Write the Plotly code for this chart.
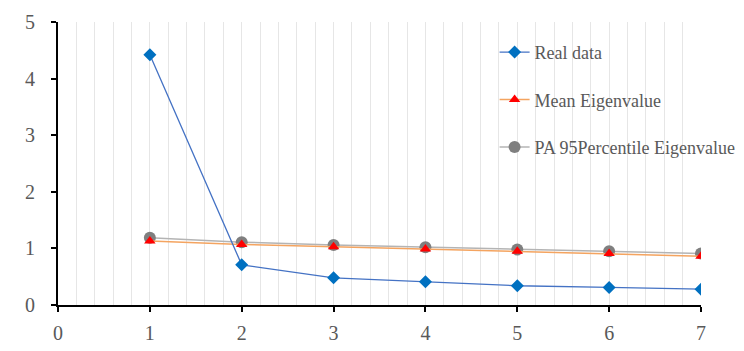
import plotly.graph_objects as go

factors = [1, 2, 3, 4, 5, 6, 7]
real_data = [4.42, 0.71, 0.48, 0.41, 0.34, 0.31, 0.28]
mean_eigen = [1.13, 1.07, 1.03, 0.99, 0.95, 0.91, 0.86]
pa95_eigen = [1.19, 1.11, 1.06, 1.02, 0.98, 0.95, 0.91]
x_labels = [0, 1, 2, 3, 4, 5, 6, 7]
y_ticks = [0, 1, 2, 3, 4, 5]

# vertical gridlines every 0.2 along x; labels only at integers
grid_vals = [i / 5 for i in range(0, 36)]
grid_text = [str(int(round(v))) if abs(v - round(v)) < 1e-9 else "" for v in grid_vals]

font_family = "Liberation Serif, Times New Roman, serif"

fig = go.Figure()
fig.add_trace(go.Scatter(
    x=factors, y=pa95_eigen, name="PA 95Percentile Eigenvalue", mode="lines+markers",
    line=dict(color="#B4B4B4", width=1.5),
    marker=dict(symbol="circle", size=12, color="#7F7F7F"),
    legendgroup="c", legendrank=3))
fig.add_trace(go.Scatter(
    x=factors, y=mean_eigen, name="Mean Eigenvalue", mode="lines+markers",
    line=dict(color="#F4A460", width=1.5),
    marker=dict(symbol="triangle-up", size=10, color="#FF0000"),
    legendgroup="b", legendrank=2))
fig.add_trace(go.Scatter(
    x=factors, y=real_data, name="Real data", mode="lines+markers",
    line=dict(color="#4472C4", width=1.3),
    marker=dict(symbol="diamond", size=10, color="#0070C0"),
    legendgroup="a", legendrank=1))

fig.update_layout(
    width=736, height=343,
    margin=dict(l=50, r=43, t=14, b=46, autoexpand=False),
    plot_bgcolor="white", paper_bgcolor="white",
    font=dict(family=font_family, color="#595959"),
    showlegend=True,
    legend=dict(x=0.679, y=0.958, xanchor="left", yanchor="top",
                font=dict(size=18, color="#595959", family=font_family),
                tracegroupgap=21, bgcolor="rgba(0,0,0,0)",
                traceorder="grouped"),
    xaxis=dict(range=[0, 7], tickmode="array", tickvals=grid_vals, ticktext=grid_text,
               showline=True, linecolor="black", linewidth=2,
               ticks="", showgrid=True, gridcolor="#E6E6E6", gridwidth=1,
               minor=dict(tickmode="array", tickvals=x_labels, ticks="outside",
                          ticklen=5, tickcolor="black", tickwidth=2, showgrid=False),
               ticklabelstandoff=9,
               tickfont=dict(size=20, color="#595959", family=font_family),
               zeroline=False, fixedrange=True),
    yaxis=dict(range=[0, 5], tickvals=y_ticks,
               showline=True, linecolor="black", linewidth=2,
               ticks="outside", ticklen=5, tickcolor="black", tickwidth=2,
               showgrid=False, ticklabelstandoff=12,
               tickfont=dict(size=20, color="#595959", family=font_family),
               zeroline=False, fixedrange=True),
)

fig.write_html("out.html")
